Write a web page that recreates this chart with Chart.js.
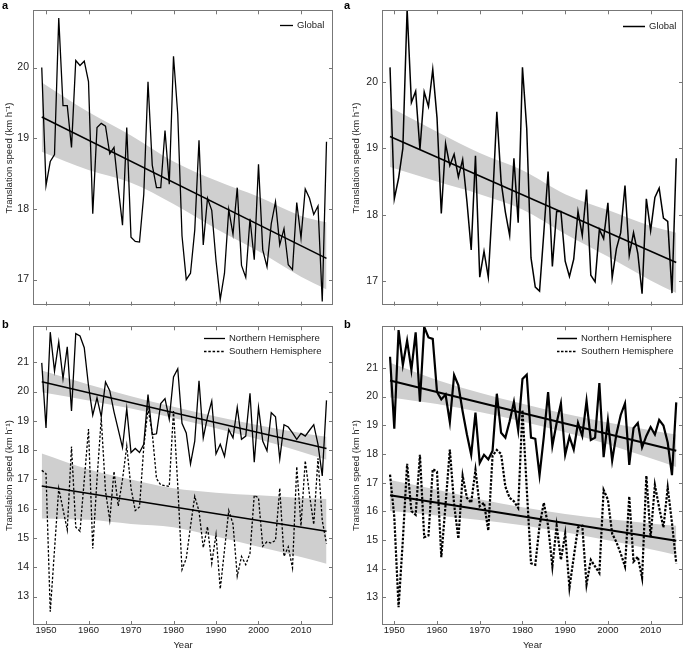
<!DOCTYPE html>
<html lang="en">
<head>
<meta charset="UTF-8">
<title>Translation speed</title>
<script src="https://cdn.jsdelivr.net/npm/chart.js"></script>
<style>
  body { margin: 0; background: #fff; }
  #wrap { position: relative; width: 685px; height: 651px; }
  canvas { position: absolute; }
</style>
</head>
<body>
<div id="wrap">
  <canvas id="topA" width="342" height="316" style="left:0;top:0"></canvas>
  <canvas id="topB" width="343" height="316" style="left:342px;top:0"></canvas>
  <canvas id="botA" width="342" height="335" style="left:0;top:316px"></canvas>
  <canvas id="botB" width="343" height="335" style="left:342px;top:316px"></canvas>
</div>
<script>
// ---- data ----
const YEARS = [1949, 1950, 1951, 1952, 1953, 1954, 1955, 1956, 1957, 1958, 1959,
  1960, 1961, 1962, 1963, 1964, 1965, 1966, 1967, 1968, 1969,
  1970, 1971, 1972, 1973, 1974, 1975, 1976, 1977, 1978, 1979,
  1980, 1981, 1982, 1983, 1984, 1985, 1986, 1987, 1988, 1989,
  1990, 1991, 1992, 1993, 1994, 1995, 1996, 1997, 1998, 1999,
  2000, 2001, 2002, 2003, 2004, 2005, 2006, 2007, 2008, 2009,
  2010, 2011, 2012, 2013, 2014, 2015, 2016];

const GLOBAL_A = [20.0, 18.33, 18.67, 18.77, 20.7, 19.46, 19.46, 18.87, 20.1, 20.03, 20.09,
  19.8, 17.93, 19.15, 19.21, 19.17, 18.78, 18.87, 18.3, 17.77, 19.15,
  17.6, 17.54, 17.53, 18.2, 19.8, 18.62, 18.3, 18.3, 19.11, 18.35,
  20.16, 19.34, 17.62, 17.0, 17.09, 17.7, 18.97, 17.49, 18.15, 17.98,
  17.27, 16.72, 17.09, 17.99, 17.64, 18.3, 17.2, 17.03, 17.86, 17.28,
  18.63, 17.42, 17.18, 17.79, 18.1, 17.49, 17.72, 17.21, 17.14, 18.09,
  17.59, 18.28, 18.15, 17.92, 18.04, 16.69, 18.95];

const GLOBAL_B = [20.22, 18.24, 18.55, 19.0, 21.1, 19.69, 19.86, 18.98, 19.85, 19.63, 20.19,
  19.46, 18.02, 19.07, 18.74, 18.91, 18.57, 18.83, 18.2, 17.47, 18.89,
  17.06, 17.45, 17.06, 18.2, 19.55, 18.5, 18.04, 17.69, 18.85, 17.88,
  20.22, 19.3, 17.35, 16.91, 16.85, 17.73, 18.65, 17.22, 18.05, 18.05,
  17.3, 17.07, 17.33, 18.05, 17.69, 18.38, 17.09, 16.99, 17.78, 17.64,
  18.18, 17.05, 17.49, 17.73, 18.44, 17.39, 17.73, 17.42, 16.81, 18.24,
  17.76, 18.26, 18.4, 17.95, 17.9, 16.82, 18.85];

const NH_A = [20.98, 18.76, 22.03, 20.7, 21.7, 20.44, 21.53, 19.34, 21.98, 21.9, 21.5,
  20.2, 19.2, 19.79, 19.14, 20.33, 20.03, 19.31, 18.7, 18.09, 19.42,
  17.92, 18.06, 17.92, 18.2, 19.9, 18.53, 18.56, 19.59, 19.76, 19.06,
  20.5, 20.78, 18.92, 18.59, 17.53, 18.31, 20.37, 18.42, 19.14, 19.68,
  17.87, 18.2, 17.79, 18.7, 18.42, 19.46, 18.37, 18.48, 19.94, 17.59,
  19.46, 18.31, 17.98, 19.28, 19.14, 17.7, 18.87, 18.79, 18.59, 18.37,
  18.57, 18.48, 18.68, 18.87, 18.2, 17.12, 19.7];

const SH_A = [17.31, 17.2, 12.48, 14.6, 16.7, 15.98, 15.28, 18.12, 15.37, 15.23, 16.98,
  18.72, 14.64, 17.0, 19.09, 16.6, 15.61, 17.28, 16.09, 17.0, 18.14,
  16.7, 15.94, 16.06, 18.09, 19.42, 18.59, 17.03, 16.81, 16.79, 16.76,
  19.34, 16.8, 13.92, 14.3, 15.4, 16.42, 15.92, 14.67, 15.39, 14.14,
  15.12, 13.26, 14.59, 15.94, 15.48, 13.7, 14.37, 14.09, 14.48, 16.46,
  16.37, 14.72, 14.87, 14.83, 14.92, 16.7, 14.37, 14.7, 13.98, 17.44,
  15.42, 17.64, 16.48, 15.46, 17.72, 15.6, 14.81];

const NH_B = [21.39, 18.88, 22.32, 21.1, 21.95, 20.93, 22.24, 19.82, 22.43, 22.06, 22.01,
  20.16, 19.9, 20.07, 19.11, 20.75, 20.39, 19.48, 18.68, 17.97, 19.44,
  17.69, 17.97, 17.81, 18.11, 20.1, 18.74, 18.57, 19.14, 19.82, 18.83,
  20.61, 20.76, 18.57, 18.53, 17.26, 18.6, 20.16, 18.28, 19.08, 19.76,
  17.97, 18.6, 18.15, 19.08, 18.63, 19.85, 18.49, 18.57, 20.47, 17.89,
  19.17, 17.77, 18.7, 19.36, 19.76, 17.62, 18.9, 19.08, 18.23, 18.63,
  18.94, 18.68, 19.19, 18.99, 18.4, 17.26, 19.8];

const SH_B = [17.28, 15.8, 12.66, 15.0, 17.66, 16.01, 15.88, 17.97, 15.1, 15.16, 17.47,
  17.38, 14.4, 16.24, 18.15, 16.24, 15.05, 17.24, 16.47, 16.3, 17.45,
  16.18, 16.3, 15.33, 17.94, 18.14, 18.0, 16.86, 16.47, 16.35, 16.12,
  19.53, 16.8, 14.19, 14.14, 15.5, 16.3, 15.5, 14.08, 15.5, 14.31,
  15.22, 13.34, 14.4, 15.44, 15.5, 13.45, 14.31, 14.08, 13.85, 16.75,
  16.41, 15.22, 14.93, 14.53, 14.08, 16.52, 14.25, 14.42, 13.68, 17.24,
  15.1, 16.92, 16.13, 15.44, 16.83, 15.6, 14.19];

// linear trends (end points) and their confidence bands
const TREND_YEARS = [1949, 2016];
const TREND_GLOBAL_A = [19.30, 17.30];
const TREND_GLOBAL_B = [19.18, 17.28];
const TREND_NH_A = [20.34, 18.06];
const TREND_SH_A = [16.78, 15.23];
const TREND_NH_B = [20.56, 18.11];
const TREND_SH_B = [16.56, 14.98];

const BAND_YEARS = [1949, 1960, 1970, 1980, 1990, 2000, 2010, 2016];
const BAND_GLOBAL_A_UP = [19.79, 19.37, 19.04, 18.67, 18.40, 18.17, 17.90, 17.81];
const BAND_GLOBAL_A_LO = [18.81, 18.55, 18.37, 18.07, 17.72, 17.40, 17.04, 16.86];
const BAND_GLOBAL_B_UP = [19.62, 19.25, 18.93, 18.67, 18.31, 18.07, 17.83, 17.73];
const BAND_GLOBAL_B_LO = [18.72, 18.50, 18.31, 18.08, 17.71, 17.37, 17.01, 16.82];
const BAND_NH_A_UP = [20.72, 20.24, 19.84, 19.48, 19.15, 18.85, 18.59, 18.46];
const BAND_NH_A_LO = [19.98, 19.70, 19.42, 19.10, 18.75, 18.37, 17.95, 17.67];
const BAND_SH_A_UP = [17.89, 17.35, 17.00, 16.70, 16.55, 16.46, 16.37, 16.33];
const BAND_SH_A_LO = [15.67, 15.62, 15.48, 15.37, 15.05, 14.70, 14.35, 14.12];
const BAND_NH_B_UP = [21.18, 20.58, 20.13, 19.75, 19.40, 19.10, 18.83, 18.68];
const BAND_NH_B_LO = [19.97, 19.74, 19.46, 19.13, 18.76, 18.34, 17.85, 17.55];
const BAND_SH_B_UP = [17.09, 16.75, 16.42, 16.14, 15.91, 15.73, 15.58, 15.50];
const BAND_SH_B_LO = [16.01, 15.86, 15.70, 15.52, 15.27, 14.99, 14.68, 14.48];

// tick labels
const X_TICKS = [1950, 1960, 1970, 1980, 1990, 2000, 2010];
const Y_TICKS_TOP = [17, 18, 19, 20];
const Y_TICKS_BOTTOM = [13, 14, 15, 16, 17, 18, 19, 20, 21];

// ---- drawing ----
const FONT = '"Liberation Sans", Arial, Helvetica, sans-serif';
const BAND_COLOR = '#cfcfcf';
const DOTS = [2.5, 1.8];

function pts(xs, ys) {
  return xs.map((x, i) => ({ x: x, y: ys[i] }));
}

// frame, inward ticks, panel letter and legend
const panelPlugin = {
  id: 'panel',
  afterDraw(chart, args, o) {
    const ctx = chart.ctx;
    const a = chart.chartArea;
    ctx.save();
    ctx.strokeStyle = '#777';
    ctx.lineWidth = 1;
    ctx.strokeRect(Math.round(a.left) + 0.5, Math.round(a.top) + 0.5,
      Math.round(a.right - a.left) - 1, Math.round(a.bottom - a.top) - 1);
    ctx.beginPath();
    chart.scales.x.ticks.forEach(t => {
      const px = Math.round(chart.scales.x.getPixelForValue(t.value)) + 0.5;
      ctx.moveTo(px, a.bottom); ctx.lineTo(px, a.bottom - 4);
      ctx.moveTo(px, a.top); ctx.lineTo(px, a.top + 4);
    });
    chart.scales.y.ticks.forEach(t => {
      const py = Math.round(chart.scales.y.getPixelForValue(t.value)) + 0.5;
      ctx.moveTo(a.left, py); ctx.lineTo(a.left + 4, py);
      ctx.moveTo(a.right, py); ctx.lineTo(a.right - 4, py);
    });
    ctx.stroke();

    // panel letter
    ctx.fillStyle = '#000';
    ctx.font = 'bold 11px ' + FONT;
    ctx.textBaseline = 'top';
    ctx.fillText(o.letter, 2, o.letterY);

    // legend
    ctx.font = '9.5px ' + FONT;
    ctx.textBaseline = 'middle';
    o.legend.forEach((item, i) => {
      const y = Math.round(a.top + o.legendY + i * 13) + 0.5;
      const x0 = a.right - o.legendX;
      ctx.strokeStyle = '#000';
      ctx.lineWidth = item.width;
      ctx.setLineDash(item.dash);
      ctx.beginPath();
      ctx.moveTo(x0, y);
      ctx.lineTo(x0 + o.lineLen, y);
      ctx.stroke();
      ctx.setLineDash([]);
      ctx.fillStyle = '#222';
      ctx.fillText(item.text, x0 + o.lineLen + 4, y);
    });
    ctx.restore();
  }
};

function panel(id, o) {
  const datasets = [];
  o.series.forEach(s => {
    datasets.push({
      data: pts(YEARS, s.values), borderColor: '#000', borderWidth: s.width,
      borderDash: s.dash, pointRadius: 0, fill: false, order: 1
    });
  });
  o.trends.forEach(t => {
    datasets.push({
      data: pts(TREND_YEARS, t), borderColor: '#000', borderWidth: o.trendWidth,
      pointRadius: 0, fill: false, order: 0
    });
  });
  o.bands.forEach(b => {
    datasets.push({
      data: pts(BAND_YEARS, b[0]), borderColor: 'rgba(0,0,0,0)', borderWidth: 0,
      backgroundColor: BAND_COLOR, fill: '+1', pointRadius: 0,
      cubicInterpolationMode: 'monotone', order: 5
    });
    datasets.push({
      data: pts(BAND_YEARS, b[1]), borderColor: 'rgba(0,0,0,0)', borderWidth: 0,
      fill: false, pointRadius: 0, cubicInterpolationMode: 'monotone', order: 5
    });
  });

  return new Chart(document.getElementById(id), {
    type: 'line',
    data: { datasets: datasets },
    options: {
      responsive: false,
      animation: false,
      events: [],
      layout: { padding: { left: o.padLeft, right: o.padRight, top: o.padTop, bottom: 0 } },
      plugins: {
        legend: { display: false },
        tooltip: { enabled: false },
        panel: { letter: o.letter, letterY: o.letterY, legend: o.legend,
          legendX: o.legendX, legendY: o.legendY, lineLen: o.lineLen }
      },
      scales: {
        x: {
          type: 'linear', min: o.xMin, max: o.xMax,
          grid: { display: false, drawTicks: false }, border: { display: false },
          afterBuildTicks: s => { s.ticks = X_TICKS.map(v => ({ value: v })); },
          afterFit: s => { s.height = o.xHeight; },
          ticks: { display: o.showX, padding: 0, color: '#222', font: { family: FONT, size: 9.5 },
            callback: v => String(v) },
          title: { display: o.showX, text: 'Year', color: '#222',
            font: { family: FONT, size: 9.5 }, padding: { top: 0, bottom: 0 } }
        },
        y: {
          min: o.yMin, max: o.yMax,
          grid: { display: false, drawTicks: false }, border: { display: false },
          afterBuildTicks: s => { s.ticks = o.yTicks.map(v => ({ value: v })); },
          afterFit: s => { s.width = o.yWidth; },
          ticks: { padding: 4, color: '#222', font: { family: FONT, size: 10.5 } },
          title: { display: true, text: 'Translation speed (km h\u207b\u00b9)', color: '#222',
            font: { family: FONT, size: 9.5 }, padding: { top: 4, bottom: 0 } }
        }
      }
    },
    plugins: [panelPlugin]
  });
}

panel('topA', {
  series: [{ values: GLOBAL_A, width: 1.3, dash: [] }],
  trends: [TREND_GLOBAL_A], trendWidth: 1.5,
  bands: [[BAND_GLOBAL_A_UP, BAND_GLOBAL_A_LO]],
  xMin: 1946.94, xMax: 2017.53, yMin: 16.63, yMax: 20.81, yTicks: Y_TICKS_TOP,
  padLeft: 0, padRight: 9, padTop: 2, yWidth: 33, xHeight: 6, showX: false,
  letter: 'a', letterY: 0,
  legend: [{ text: 'Global', width: 1.3, dash: [] }], legendX: 53, legendY: 15, lineLen: 13
});

panel('topB', {
  series: [{ values: GLOBAL_B, width: 1.5, dash: [] }],
  trends: [TREND_GLOBAL_B], trendWidth: 1.6,
  bands: [[BAND_GLOBAL_B_UP, BAND_GLOBAL_B_LO]],
  xMin: 1947.12, xMax: 2017.58, yMin: 16.63, yMax: 21.08, yTicks: Y_TICKS_TOP,
  padLeft: 5, padRight: 2, padTop: 1, yWidth: 35, xHeight: 6, showX: false,
  letter: 'a', letterY: 0,
  legend: [{ text: 'Global', width: 1.5, dash: [] }], legendX: 60, legendY: 16, lineLen: 22
});

panel('botA', {
  series: [{ values: NH_A, width: 1.3, dash: [] }, { values: SH_A, width: 1.3, dash: DOTS }],
  trends: [TREND_NH_A, TREND_SH_A], trendWidth: 1.5,
  bands: [[BAND_NH_A_UP, BAND_NH_A_LO], [BAND_SH_A_UP, BAND_SH_A_LO]],
  xMin: 1946.94, xMax: 2017.53, yMin: 12.03, yMax: 22.23, yTicks: Y_TICKS_BOTTOM,
  padLeft: 0, padRight: 9, padTop: 3, yWidth: 33, xHeight: 26, showX: true,
  letter: 'b', letterY: 3,
  legend: [{ text: 'Northern Hemisphere', width: 1.3, dash: [] },
    { text: 'Southern Hemisphere', width: 1.3, dash: DOTS }],
  legendX: 129, legendY: 12, lineLen: 21
});

panel('botB', {
  series: [{ values: NH_B, width: 2.2, dash: [] }, { values: SH_B, width: 2.2, dash: [2.5, 1.5] }],
  trends: [TREND_NH_B, TREND_SH_B], trendWidth: 2,
  bands: [[BAND_NH_B_UP, BAND_NH_B_LO], [BAND_SH_B_UP, BAND_SH_B_LO]],
  xMin: 1947.12, xMax: 2017.58, yMin: 12.04, yMax: 22.45, yTicks: Y_TICKS_BOTTOM,
  padLeft: 5, padRight: 2, padTop: 3, yWidth: 35, xHeight: 26, showX: true,
  letter: 'b', letterY: 3,
  legend: [{ text: 'Northern Hemisphere', width: 1.5, dash: [] },
    { text: 'Southern Hemisphere', width: 1.5, dash: [2.5, 1.5] }],
  legendX: 126, legendY: 12, lineLen: 20
});
</script>
</body>
</html>
